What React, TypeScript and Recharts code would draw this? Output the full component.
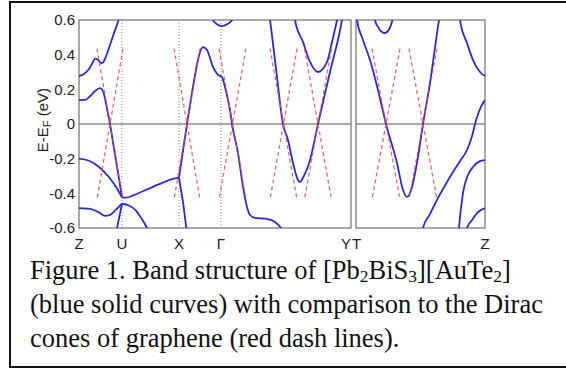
import { LineChart, Line, XAxis, YAxis, ReferenceLine, ReferenceArea } from "recharts";

const FONT = "'Liberation Sans', Arial, sans-serif";
const BLUE = "#2b2bd2";
const RED = "#e8504f";
const GRID = "#8c8c8c";

// k is the path coordinate: left panel Z..Y, right panel T..Z
const leftTicks = [0, 43, 100, 142, 272];
const leftTickLabels = ["Z", "U", "X", "Γ", "Y"];
const rightTicks = [0, 129];
const rightTickLabels = ["T", "Z"];
const energyTicks = [-0.6, -0.4, -0.2, 0, 0.2, 0.4, 0.6];
const energyTickLabels = ["-0.6", "-0.4", "-0.2", "0", "0.2", "0.4", "0.6"];

// blue bands, [k, E - E_F]
const bandA = [[0, 0.277], [5, 0.288], [10, 0.317], [14, 0.358], [16, 0.377], [19, 0.37], [22, 0.352], [24, 0.355], [27, 0.39], [31, 0.456], [35, 0.525], [39, 0.59], [42, 0.65]];
const bandB = [[0, 0.138], [6, 0.139], [11, 0.16], [16, 0.19], [21, 0.207], [24, 0.19], [27, 0.12], [29, 0.06], [31, 0], [35, -0.14], [39, -0.28], [43, -0.425]];
const bandC = [[0, -0.2], [10, -0.212], [20, -0.248], [30, -0.307], [38, -0.372], [43, -0.425]];
const bandUX = [[43, -0.425], [47, -0.425], [55, -0.41], [65, -0.385], [75, -0.36], [85, -0.335], [95, -0.315], [100, -0.31]];
const bandXdown = [[100, -0.31], [104, -0.45], [108, -0.63]];
const bandD = [[0, -0.485], [11, -0.49], [20, -0.51], [26, -0.53], [31, -0.525], [36, -0.5], [43, -0.46]];
const bandD2 = [[43, -0.46], [50, -0.47], [57, -0.5], [63, -0.55], [70, -0.62]];
const bandE = [[37, -0.63], [43, -0.46]];
const bandF = [[100, -0.31], [104, -0.155], [108, 0], [113, 0.18], [119, 0.369], [122, 0.43], [124, 0.444], [128, 0.427], [134, 0.329], [139, 0.283], [143, 0.271], [146, 0.213], [151, 0.081], [153, 0], [159, -0.167], [164, -0.363], [168, -0.479], [171, -0.525], [176, -0.542], [188, -0.548], [196, -0.565], [202, -0.6], [206, -0.64]];
const pocketGamma = [[131, 0.64], [134, 0.6], [138, 0.575], [143, 0.565], [148, 0.575], [153, 0.6], [156, 0.64]];
const bandG = [[189, 0.68], [191, 0.6], [197, 0.32], [204, 0], [209, -0.092], [214, -0.225], [219, -0.323], [221, -0.335], [224, -0.31], [231, -0.208], [239, 0], [251, 0.3], [263, 0.6], [265, 0.67]];
const bandH = [[214, 0.68], [216, 0.6], [224, 0.473], [231, 0.358], [239, 0.3], [248, 0.358], [253, 0.473], [258, 0.6], [260, 0.66]];

const bandR1 = [[0, 0.66], [1, 0.6], [7, 0.485], [14, 0.369], [22, 0.196], [30, 0], [41, -0.225], [47, -0.381], [51, -0.421], [56, -0.363], [62, -0.19], [67, 0], [74, 0.237], [83, 0.6], [85, 0.67]];
const pocketT = [[17, 0.68], [19, 0.6], [22, 0.56], [25, 0.535], [29, 0.525], [33, 0.545], [36, 0.59], [38, 0.64]];
const bandR2 = [[102, 0.7], [104, 0.6], [111, 0.467], [117, 0.369], [124, 0.3], [129, 0.277]];
const bandR3 = [[65, -0.66], [67, -0.6], [74, -0.52], [81, -0.438], [89, -0.355], [97, -0.277], [104, -0.215], [111, -0.15], [116, -0.07], [120, 0.02], [125, 0.1], [129, 0.138]];
const bandR4 = [[102, -0.68], [103, -0.6], [107, -0.398], [112, -0.294], [117, -0.248], [124, -0.214], [129, -0.208]];
const bandR5 = [[109, -0.65], [111, -0.6], [116, -0.554], [121, -0.514], [129, -0.485]];

// graphene Dirac cones: [k at left end, k at right end], crossing at E_F
const diracLeftCones = [[18, 44], [95, 121], [140, 167], [191, 218], [225.5, 252.5]];
const diracRightCones = [[16, 44], [53, 81]];
const diracTop = 0.435;

const leftBands = [bandA, bandB, bandC, bandUX, bandD, bandD2, bandF, pocketGamma, bandG, bandH];
const leftStraight = [bandXdown, bandE];
const rightBands = [bandR1, pocketT, bandR2, bandR3, bandR4, bandR5];

const toPts = (a: number[][]) => a.map(([k, e]) => ({ k, e }));

const coneSegments = (cones: number[][]) =>
  cones.flatMap(([l, r]) => [
    { k: l, e: diracTop },
    { k: r, e: -diracTop },
    { k: r, e: null },
    { k: r, e: diracTop },
    { k: l, e: -diracTop },
    { k: l, e: null },
  ]);

const tickText = { fill: "#222", fontSize: 15, fontFamily: FONT };

const LeftXTick = (p: any) => {
  const i = leftTicks.indexOf(p.payload.value);
  const last = i === leftTicks.length - 1;
  return (
    <text x={p.x} y={p.y} dy="0.71em" textAnchor={last ? "end" : "middle"} {...tickText}>
      {leftTickLabels[i]}
    </text>
  );
};

const RightXTick = (p: any) => {
  const i = rightTicks.indexOf(p.payload.value);
  const first = i === 0;
  return (
    <text x={first ? p.x - 4 : p.x} y={p.y} dy="0.71em" textAnchor={first ? "start" : "middle"} {...tickText}>
      {rightTickLabels[i]}
    </text>
  );
};

const EnergyLabel = (p: any) => {
  const vb = p.viewBox || { x: 19, y: 20, width: 60, height: 208 };
  const cx = vb.x + 29;
  const cy = vb.y + 100;
  return (
    <text x={cx} y={cy} transform={`rotate(-90, ${cx}, ${cy})`} textAnchor="middle" {...tickText}>
      E-E<tspan dy={3} fontSize={11}>F</tspan>
      <tspan dy={-3}> (eV)</tspan>
    </text>
  );
};

function bandLines(list: number[][][], prefix: string, type: "monotone" | "linear") {
  return list.map((b, i) => (
    <Line
      key={`${prefix}${i}`}
      name={`${prefix}${i}`}
      data={toPts(b)}
      dataKey="e"
      type={type}
      stroke={BLUE}
      strokeWidth={1.8}
      dot={false}
      activeDot={false}
      isAnimationActive={false}
    />
  ));
}

function LeftPanel() {
  return (
    <LineChart width={361} height={258} margin={{ top: 20, right: 10, left: 19, bottom: 8 }}>
      <XAxis
        dataKey="k"
        type="number"
        domain={[0, 272]}
        ticks={leftTicks}
        allowDataOverflow
        axisLine={false}
        tickLine={false}
        tickSize={0}
        tickMargin={10}
        height={22}
        tick={<LeftXTick />}
        interval={0}
      />
      <YAxis
        type="number"
        domain={[-0.6, 0.6]}
        ticks={energyTicks}
        allowDataOverflow
        axisLine={false}
        tickLine={false}
        tickSize={0}
        tickMargin={4}
        width={60}
        interval={0}
        tick={tickText}
        tickFormatter={(v: number) => energyTickLabels[energyTicks.indexOf(v)] ?? ""}
        label={{ content: <EnergyLabel /> }}
      />
      <YAxis yAxisId="inL" type="number" domain={[-0.6, 0.6]} ticks={energyTicks} mirror width={0} axisLine={false} tickSize={4} stroke={GRID} tickFormatter={() => ""} interval={0} />
      <YAxis yAxisId="inR" orientation="right" type="number" domain={[-0.6, 0.6]} ticks={energyTicks} mirror width={0} axisLine={false} tickSize={4} stroke={GRID} tickFormatter={() => ""} interval={0} />
      <ReferenceLine y={0} stroke={GRID} strokeWidth={1.3} />
      {leftTicks.slice(1, 4).map((k) => (
        <ReferenceLine key={k} x={k} stroke={GRID} strokeWidth={1} strokeDasharray="1 2" />
      ))}
      {bandLines(leftBands, "l", "monotone")}
      {bandLines(leftStraight, "s", "linear")}
      <Line
        data={coneSegments(diracLeftCones)}
        dataKey="e"
        name="diracL"
        type="linear"
        stroke={RED}
        strokeOpacity={0.85}
        strokeWidth={1.3}
        strokeDasharray="4 3"
        dot={false}
        activeDot={false}
        isAnimationActive={false}
      />
      <ReferenceArea x1={0} x2={272} y1={-0.6} y2={0.6} fill="none" stroke={GRID} strokeWidth={1.5} />
    </LineChart>
  );
}

function RightPanel() {
  return (
    <LineChart width={149} height={258} margin={{ top: 20, right: 10, left: 10, bottom: 8 }}>
      <XAxis
        dataKey="k"
        type="number"
        domain={[0, 129]}
        ticks={rightTicks}
        allowDataOverflow
        axisLine={false}
        tickLine={false}
        tickSize={0}
        tickMargin={10}
        height={22}
        tick={<RightXTick />}
        interval={0}
      />
      <YAxis type="number" domain={[-0.6, 0.6]} allowDataOverflow hide />
      <ReferenceLine y={0} stroke={GRID} strokeWidth={1.3} />
      {bandLines(rightBands, "r", "monotone")}
      <Line
        data={coneSegments(diracRightCones)}
        dataKey="e"
        name="diracR"
        type="linear"
        stroke={RED}
        strokeOpacity={0.85}
        strokeWidth={1.3}
        strokeDasharray="4 3"
        dot={false}
        activeDot={false}
        isAnimationActive={false}
      />
      <ReferenceArea x1={0} x2={129} y1={-0.6} y2={0.6} fill="none" stroke={GRID} strokeWidth={1.5} />
    </LineChart>
  );
}

const captionLines = [
  ["Figure 1. Band structure of [Pb", "2", "BiS", "3", "][AuTe", "2", "]"],
  ["(blue solid curves) with comparison to the Dirac"],
  ["cones of graphene (red dash lines)."],
];

export default function App() {
  return (
    <div style={{ position: "absolute", left: 0, top: 0, width: 566, height: 368, background: "#fff", overflow: "hidden" }}>
      <div
        style={{
          position: "absolute",
          left: 9,
          top: 1,
          width: 620,
          height: 367,
          border: "2px solid #111",
          boxSizing: "border-box",
        }}
      />
      <div style={{ position: "absolute", left: 0, top: 0 }}>
        <LeftPanel />
      </div>
      <div style={{ position: "absolute", left: 346, top: 0 }}>
        <RightPanel />
      </div>
      <div
        style={{
          position: "absolute",
          left: 30,
          top: 253,
          fontFamily: "'Liberation Serif', 'Times New Roman', serif",
          fontSize: 26.5,
          lineHeight: "34px",
          color: "#111",
          whiteSpace: "nowrap",
        }}
      >
        {captionLines.map((parts, i) => (
          <div key={i}>
            {parts.map((t, j) =>
              j % 2 === 1 ? (
                <span key={j} style={{ fontSize: "0.66em", verticalAlign: "-0.15em", lineHeight: 0 }}>
                  {t}
                </span>
              ) : (
                <span key={j}>{t}</span>
              )
            )}
          </div>
        ))}
      </div>
    </div>
  );
}
